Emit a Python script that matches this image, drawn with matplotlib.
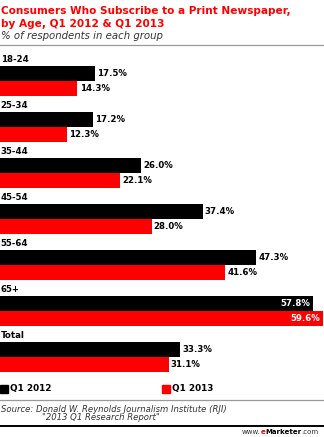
import numpy as np
import matplotlib
matplotlib.use("Agg")
import matplotlib.pyplot as plt

# data
groups = ["18-24", "25-34", "35-44", "45-54", "55-64", "65+", "Total"]
q1_2012 = [17.5, 17.2, 26.0, 37.4, 47.3, 57.8, 33.3]
q1_2013 = [14.3, 12.3, 22.1, 28.0, 41.6, 59.6, 31.1]
series_names = ["Q1 2012", "Q1 2013"]

RED = "#ff0000"
W, H = 324, 437
plt.rcParams['font.family'] = ['DejaVu Sans']

fig = plt.figure(figsize=(W / 100, H / 100), dpi=100)

def fy(px):
    # pixel row from top -> figure fraction
    return 1 - px / H

def fx(px):
    return px / W

# title block
fig.text(fx(1), fy(11), "Consumers Who Subscribe to a Print Newspaper,", color=RED,
         fontsize=7.55, fontweight="bold", va="center", ha="left")
fig.text(fx(1), fy(24), "by Age, Q1 2012 & Q1 2013", color=RED,
         fontsize=7.55, fontweight="bold", va="center", ha="left")
fig.text(fx(1), fy(36), "% of respondents in each group", color="#333333",
         fontsize=7.3, style="italic", va="center", ha="left")
fig.add_artist(plt.Line2D([0, 1], [fy(44.5), fy(44.5)], color="#999999", lw=0.9))

# bars
ax = fig.add_axes([0, fy(380), 1, 334 / H])
y = np.arange(len(groups))
h = 0.326
ax.barh(y - h / 2, q1_2012, height=h, color="black")
ax.barh(y + h / 2, q1_2013, height=h, color=RED)
ax.set_xlim(0, 59.8)
ax.set_ylim(6.5, -0.761)
ax.axis("off")

for i, g in enumerate(groups):
    ax.text(0.1, i - 0.37, g, fontsize=6.2, fontweight="bold", va="bottom", ha="left")
    for val, off in ((q1_2012[i], -h / 2), (q1_2013[i], h / 2)):
        if val > 55:
            ax.text(val - 0.5, i + off, "%.1f%%" % val, color="white", fontsize=6.2,
                    fontweight="bold", va="center", ha="right")
        else:
            ax.text(val + 0.4, i + off, "%.1f%%" % val, color="black", fontsize=6.2,
                    fontweight="bold", va="center", ha="left")

# legend
for x0, c, name in ((0, "black", series_names[0]), (162, RED, series_names[1])):
    fig.add_artist(plt.Rectangle((fx(x0), fy(393)), fx(8), 8 / H, color=c))
    fig.text(fx(x0 + 10), fy(388.5), name, fontsize=6.4, fontweight="bold",
             va="center", ha="left")

fig.add_artist(plt.Line2D([0, 1], [fy(400), fy(400)], color="#999999", lw=0.9))
fig.text(fx(1), fy(409), "Source: Donald W. Reynolds Journalism Institute (RJI)",
         fontsize=6.1, style="italic", color="#333333", va="center", ha="left")
fig.text(fx(42), fy(418), "\"2013 Q1 Research Report\"",
         fontsize=6.1, style="italic", color="#333333", va="center", ha="left")
fig.add_artist(plt.Line2D([0, 1], [fy(426), fy(426)], color="black", lw=1.4))

# eMarketer credit, pieces chained left to right
prev = fig.text(fx(242), fy(432), "www.", fontsize=5.0, color="#333333", va="center", ha="left")
for s, c, wt in (("e", RED, "bold"), ("Marketer", "black", "bold"), (".com", "#333333", "normal")):
    prev = ax.annotate(s, xy=(1, 0.5), xycoords=prev, va="center", ha="left",
                       fontsize=5.0, color=c, fontweight=wt, annotation_clip=False)

fig.savefig("out.png", dpi=100)
